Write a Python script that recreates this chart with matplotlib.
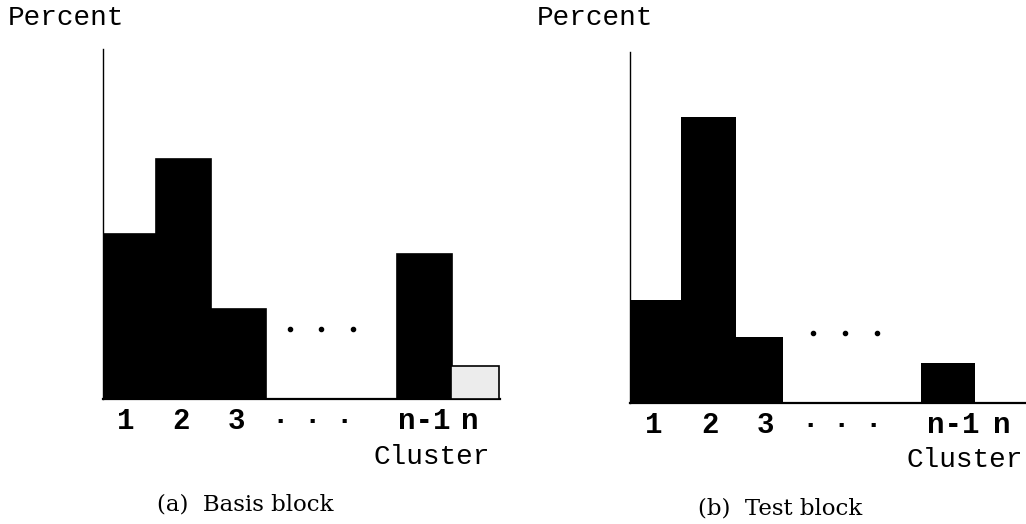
import matplotlib
matplotlib.use("Agg")
import matplotlib.pyplot as plt

# ---- data ----
cluster_labels = ["1", "2", "3", "n-1", "n"]
basis_values = [16.5, 24.0, 9.0, 14.5, 3.3]
test_values = [10.3, 28.6, 6.6, 4.0, 0.0]
tick_labels = ["1", "2", "3", "·", "·", "·", "n-1", "n"]
captions = ["(a)  Basis block", "(b)  Test block"]

# ---- layout ----
W, H = 1026, 524
fig = plt.figure(figsize=(W / 100, H / 100), dpi=100)

mono = "Liberation Mono"
serif = "DejaVu Serif"

panels = [
    dict(values=basis_values,
         rect=(103, 125, 397, 350),
         xlim=(-0.47, 6.75),
         pos=[0, 1, 2, 5.37, 6.3],
         widths=[1, 1, 1, 1, 0.88],
         ticks=[-0.05, 0.95, 1.95, 2.76, 3.33, 3.91, 5.38, 6.2],
         dots=[2.93, 3.5, 4.07],
         percent_xy=(8, 18), cluster_xy=(432, 457), caption_xy=(245, 505)),
    dict(values=test_values,
         rect=(630, 121, 396, 351),
         xlim=(-0.49, 6.98),
         pos=[0, 0.99, 1.95, 5.51, 6.5],
         widths=[0.98, 1.04, 0.89, 1.02, 1],
         ticks=[-0.04, 1.02, 2.06, 2.9, 3.5, 4.1, 5.6, 6.53],
         dots=[2.96, 3.57, 4.17],
         percent_xy=(537, 18), cluster_xy=(965, 460), caption_xy=(780, 508)),
]

for i, p in enumerate(panels):
    x0, y0, w, h = p["rect"]
    ax = fig.add_axes([x0 / W, y0 / H, w / W, h / H])
    colors = ["black"] * 4 + ["#ececec"]
    ax.bar(p["pos"], p["values"], width=p["widths"], color=colors,
           edgecolor="black", linewidth=1.2 if i == 0 else 0, zorder=3)
    ax.set_xlim(*p["xlim"])
    ax.set_ylim(0, 35 if i == 0 else 35.1)
    for s in ["top", "right"]:
        ax.spines[s].set_visible(False)
    ax.spines["left"].set_linewidth(1.0)
    ax.spines["bottom"].set_linewidth(1.6)
    ax.set_yticks([])
    ax.set_xticks(p["ticks"])
    ax.set_xticklabels(tick_labels, fontfamily=mono, fontsize=21,
                       fontweight="bold")
    ax.tick_params(axis="x", length=0, pad=6)
    for d in p["dots"]:
        ax.plot(d, 7.0, "o", color="black", markersize=3.0, zorder=4)
    ax.set_facecolor("none")

    fig.text(p["percent_xy"][0] / W, 1 - p["percent_xy"][1] / H, "Percent",
             ha="left", va="center", fontfamily=mono, fontsize=20)
    fig.text(p["cluster_xy"][0] / W, 1 - p["cluster_xy"][1] / H, "Cluster",
             ha="center", va="center", fontfamily=mono, fontsize=20)
    fig.text(p["caption_xy"][0] / W, 1 - p["caption_xy"][1] / H, captions[i],
             ha="center", va="center", fontfamily=serif, fontsize=16.5)

fig.savefig("out.png", dpi=100, facecolor="white")
